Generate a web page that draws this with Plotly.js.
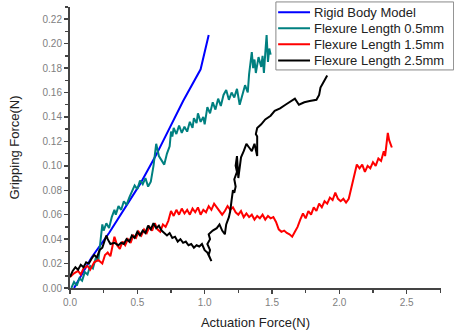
<!DOCTYPE html>
<html>
<head>
<meta charset="utf-8">
<script src="https://cdn.plot.ly/plotly-3.0.1.min.js"></script>
<style>html,body{margin:0;padding:0;background:#fff;}#chart{width:454px;height:334px;}</style>
</head>
<body>
<div id="chart"></div>
<script>
// Rigid Body Model
const rigidX = [0.03, 0.06, 0.16, 0.29, 0.42, 0.52, 0.64, 0.76, 0.84, 0.97, 1.03];
const rigidY = [0.000, 0.006, 0.025, 0.045, 0.067, 0.085, 0.109, 0.136, 0.153, 0.179, 0.207];

// Flexure Length 0.5mm
const f05X = [0.01,0.03,0.05,0.07,0.09,0.11,0.13,0.15,0.17,0.19,0.21,0.22,0.23,0.24,0.25,0.27,0.29,0.31,0.33,0.34,0.36,0.38,0.40,0.42,0.44,0.46,0.48,0.50,0.52,0.54,0.56,0.58,0.60,0.62,0.63,0.64,0.66,0.68,0.70,0.72,0.74,0.75,0.76,0.77,0.79,0.81,0.83,0.85,0.87,0.89,0.91,0.92,0.94,0.95,0.97,0.99,1.00,1.02,1.04,1.06,1.08,1.10,1.12,1.14,1.16,1.18,1.20,1.22,1.24,1.26,1.28,1.30,1.32,1.33,1.35,1.36,1.37,1.38,1.40,1.42,1.43,1.44,1.45,1.46,1.47,1.48,1.49];
const f05Y = [0.000,0.005,0.002,0.008,0.006,0.013,0.011,0.018,0.016,0.024,0.022,0.032,0.045,0.052,0.047,0.053,0.049,0.058,0.064,0.060,0.067,0.064,0.071,0.068,0.074,0.079,0.084,0.081,0.088,0.085,0.090,0.083,0.087,0.100,0.112,0.118,0.108,0.104,0.101,0.110,0.116,0.128,0.124,0.131,0.126,0.133,0.127,0.132,0.128,0.136,0.131,0.139,0.135,0.143,0.136,0.140,0.134,0.148,0.143,0.152,0.146,0.155,0.149,0.158,0.162,0.154,0.160,0.156,0.163,0.150,0.158,0.166,0.160,0.175,0.193,0.180,0.187,0.176,0.189,0.181,0.190,0.176,0.192,0.207,0.185,0.196,0.191];

// Flexure Length 1.5mm
const f15X = [0.00,0.03,0.06,0.08,0.10,0.13,0.15,0.18,0.21,0.24,0.26,0.28,0.30,0.32,0.33,0.35,0.37,0.39,0.41,0.43,0.45,0.47,0.49,0.51,0.53,0.55,0.57,0.59,0.61,0.63,0.65,0.67,0.69,0.71,0.73,0.75,0.77,0.79,0.81,0.83,0.85,0.87,0.89,0.91,0.93,0.95,0.97,0.99,1.01,1.03,1.05,1.07,1.09,1.11,1.13,1.15,1.17,1.19,1.21,1.23,1.25,1.27,1.29,1.31,1.33,1.35,1.37,1.39,1.41,1.43,1.45,1.47,1.49,1.51,1.53,1.55,1.57,1.59,1.61,1.63,1.65,1.67,1.69,1.71,1.73,1.75,1.77,1.79,1.81,1.83,1.85,1.87,1.89,1.91,1.93,1.95,1.97,1.99,2.01,2.03,2.05,2.07,2.09,2.11,2.13,2.15,2.17,2.19,2.21,2.23,2.25,2.27,2.29,2.31,2.33,2.34,2.35,2.36,2.37,2.38,2.39];
const f15Y = [0.009,0.012,0.014,0.011,0.016,0.018,0.015,0.021,0.023,0.020,0.027,0.029,0.026,0.036,0.042,0.035,0.032,0.038,0.035,0.040,0.037,0.043,0.041,0.046,0.043,0.048,0.045,0.050,0.047,0.053,0.048,0.046,0.052,0.050,0.055,0.063,0.059,0.064,0.060,0.065,0.061,0.064,0.060,0.065,0.062,0.066,0.060,0.064,0.062,0.067,0.064,0.069,0.066,0.064,0.060,0.063,0.067,0.064,0.066,0.062,0.060,0.063,0.058,0.061,0.058,0.060,0.056,0.059,0.057,0.060,0.056,0.059,0.057,0.058,0.054,0.048,0.046,0.047,0.045,0.044,0.042,0.046,0.050,0.056,0.061,0.057,0.063,0.060,0.066,0.063,0.069,0.066,0.071,0.069,0.074,0.072,0.078,0.073,0.071,0.073,0.070,0.073,0.082,0.092,0.101,0.098,0.101,0.095,0.100,0.098,0.103,0.100,0.106,0.104,0.112,0.108,0.118,0.127,0.121,0.117,0.115];

// Flexure Length 2.5mm
const f25X = [0.00,0.02,0.04,0.06,0.08,0.10,0.12,0.14,0.16,0.18,0.20,0.22,0.24,0.26,0.27,0.28,0.30,0.33,0.36,0.38,0.40,0.42,0.44,0.46,0.48,0.50,0.52,0.54,0.56,0.58,0.60,0.62,0.64,0.66,0.68,0.70,0.72,0.74,0.76,0.78,0.80,0.82,0.84,0.86,0.88,0.90,0.92,0.94,0.96,0.98,1.00,1.02,1.04,1.05,1.03,1.04,1.02,1.04,1.03,1.06,1.09,1.11,1.13,1.15,1.16,1.18,1.19,1.20,1.21,1.22,1.23,1.22,1.24,1.23,1.24,1.25,1.26,1.27,1.29,1.31,1.33,1.35,1.37,1.39,1.39,1.38,1.39,1.42,1.45,1.49,1.52,1.56,1.60,1.64,1.67,1.70,1.74,1.78,1.83,1.85,1.86,1.88,1.91];
const f25Y = [0.009,0.014,0.017,0.015,0.019,0.017,0.021,0.020,0.024,0.027,0.025,0.031,0.033,0.039,0.043,0.040,0.036,0.037,0.035,0.037,0.036,0.040,0.038,0.043,0.041,0.046,0.043,0.047,0.045,0.051,0.048,0.053,0.049,0.051,0.047,0.045,0.043,0.045,0.041,0.042,0.038,0.040,0.037,0.038,0.035,0.036,0.033,0.035,0.034,0.036,0.031,0.029,0.024,0.022,0.027,0.031,0.036,0.040,0.044,0.047,0.049,0.052,0.047,0.044,0.052,0.058,0.063,0.072,0.080,0.078,0.083,0.089,0.095,0.100,0.108,0.090,0.098,0.107,0.112,0.118,0.115,0.112,0.118,0.108,0.124,0.126,0.131,0.134,0.138,0.141,0.145,0.147,0.150,0.153,0.155,0.150,0.152,0.153,0.154,0.158,0.164,0.168,0.174];

const seriesNames = ["Rigid Body Model", "Flexure Length 0.5mm", "Flexure Length 1.5mm", "Flexure Length 2.5mm"];
const seriesColors = ["#0000ff", "#008080", "#ff0000", "#000000"];
const xTickVals = [0, 0.5, 1.0, 1.5, 2.0, 2.5];
const xTickText = ["0.0", "0.5", "1.0", "1.5", "2.0", "2.5"];

const FONT = "Liberation Sans, Arial, sans-serif";
const xs = [rigidX, f05X, f15X, f25X];
const ys = [rigidY, f05Y, f15Y, f25Y];
const traces = xs.map((x, i) => ({
  type: "scatter", mode: "lines", x: x, y: ys[i], name: seriesNames[i],
  line: {color: seriesColors[i], width: 2}, showlegend: false
}));

// Compact legend (box, sample lines, labels) in paper coordinates
const legX0 = 0.555, legX1 = 1.034, legYTop = 1.018, legYBot = 0.776;
const rowY = [0.981, 0.924, 0.867, 0.810];
const shapes = [{
  type: "rect", xref: "paper", yref: "paper", x0: legX0, x1: legX1, y0: legYBot, y1: legYTop,
  line: {color: "#888", width: 1}, fillcolor: "#fff", layer: "above"
}];
const annotations = [];
seriesNames.forEach((n, i) => {
  shapes.push({type: "line", xref: "paper", yref: "paper", x0: 0.561, x1: 0.647, y0: rowY[i], y1: rowY[i],
    line: {color: seriesColors[i], width: 2}, layer: "above"});
  annotations.push({xref: "paper", yref: "paper", x: 0.653, y: rowY[i], xanchor: "left", yanchor: "middle",
    text: n, showarrow: false, font: {family: FONT, size: 13, color: "#222"}});
});

const axisCommon = {
  showline: true, linecolor: "#444", linewidth: 2, mirror: false,
  showgrid: false, zeroline: false,
  ticks: "outside", ticklen: 4, tickwidth: 1.5, tickcolor: "#444",
  tickfont: {family: FONT, size: 10, color: "#808080"}
};

const layout = {
  width: 454, height: 334,
  margin: {l: 70, r: 13, t: 7, b: 46},
  paper_bgcolor: "#fff", plot_bgcolor: "#fff",
  showlegend: false,
  shapes: shapes, annotations: annotations,
  xaxis: Object.assign({}, axisCommon, {
    range: [0, 2.755], tickvals: xTickVals, ticktext: xTickText,
    minor: {dtick: 0.25, tick0: 0, ticks: "outside", ticklen: 3, tickwidth: 1.5, tickcolor: "#444"},
    title: {text: "Actuation Force(N)", font: {family: FONT, size: 13, color: "#222"}, standoff: 11}
  }),
  yaxis: Object.assign({}, axisCommon, {
    range: [0, 0.23], dtick: 0.02, tick0: 0, tickformat: ".2f",
    minor: {dtick: 0.01, tick0: 0, ticks: "outside", ticklen: 3, tickwidth: 1.5, tickcolor: "#444"},
    title: {text: "Gripping Force(N)", font: {family: FONT, size: 13, color: "#222"}, standoff: 20}
  })
};

Plotly.newPlot("chart", traces, layout, {displayModeBar: false, staticPlot: true});
</script>
</body>
</html>
